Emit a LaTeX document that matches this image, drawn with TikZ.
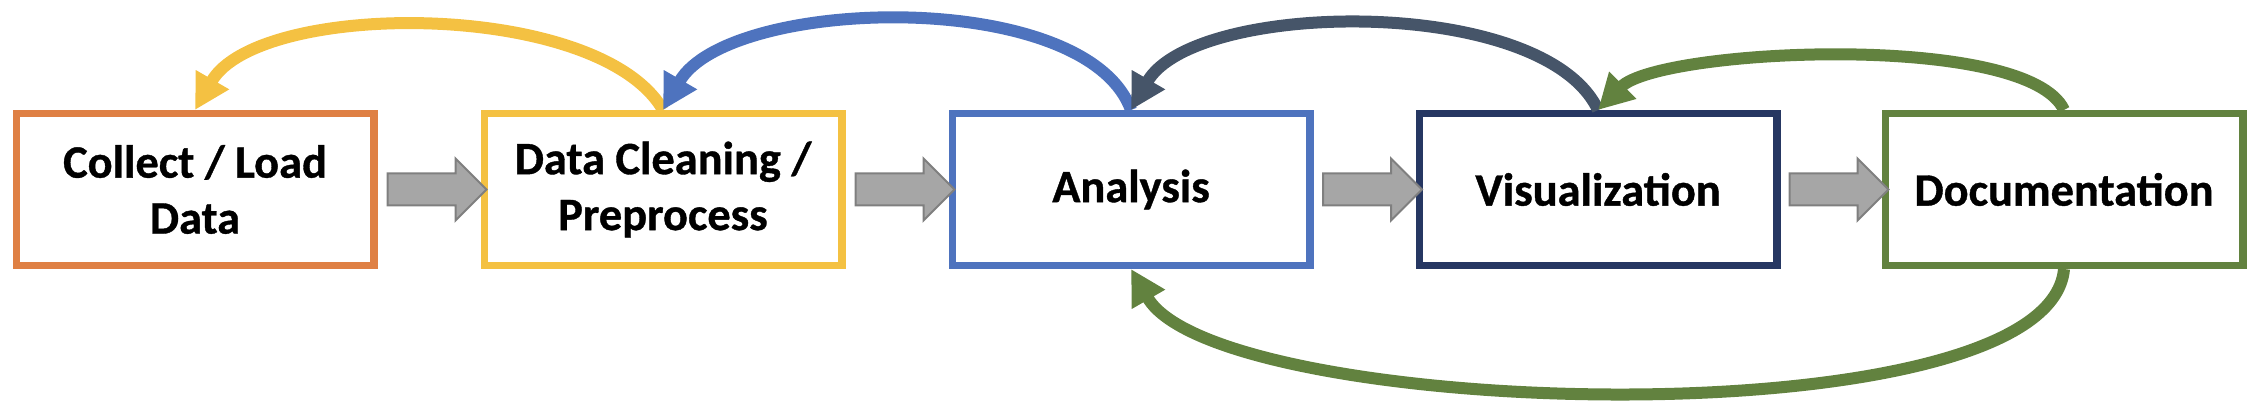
\documentclass[tikz,border=0pt]{standalone}
\usepackage{fontspec}
\setmainfont{Carlito}[BoldFeatures={FakeBold=0.8}]
\usetikzlibrary{calc,shapes.arrows,arrows.meta}
\definecolor{loadorange}{HTML}{DF8044}
\definecolor{cleanyellow}{HTML}{F4C142}
\definecolor{analysisblue}{HTML}{4E73BE}
\definecolor{visnavy}{HTML}{263762}
\definecolor{docgreen}{HTML}{62823F}
\definecolor{backslate}{HTML}{465569}
\definecolor{flowfill}{HTML}{A6A6A6}
\definecolor{flowedge}{HTML}{7F7F7F}

\begin{document}
\begin{tikzpicture}[
        stage/.style={draw,line width=0.075cm,fill=white,minimum width=3.575cm,minimum height=1.515cm,
            align=center,font=\fontsize{13.2pt}{15.9pt}\selectfont\bfseries},
        flow/.style={single arrow,draw=flowedge,fill=flowfill,line width=0.02cm,inner sep=0.15cm,
            single arrow head extend=0.15cm,minimum height=0.99cm},
        back/.style={line width=0.12cm,-{Triangle[width=0.36cm,length=0.35cm]}}]
        \useasboundingbox (0,0) rectangle (22.58,4.04);
        \node[stage,draw=loadorange] (load) at (1.95,2.145) {Collect / Load\\Data};
        \node[stage,draw=cleanyellow] (clean) at (6.63,2.145) {Data Cleaning /\\Preprocess};
        \node[stage,draw=analysisblue] (analysis) at (11.31,2.145) {Analysis};
        \node[stage,draw=visnavy] (vis) at (15.98,2.145) {Visualization};
        \node[stage,draw=docgreen] (doc) at (20.64,2.145) {Documentation};
        \node[flow] (f1) at ($(load.east)!0.5!(clean.west)$) {};
        \node[flow] (f2) at ($(clean.east)!0.5!(analysis.west)$) {};
        \node[flow] (f3) at ($(analysis.east)!0.5!(vis.west)$) {};
        \node[flow] (f4) at ($(vis.east)!0.5!(doc.west)$) {};
        % feedback loops
        \draw[back,cleanyellow] (clean.north) to[out=120,in=60,looseness=0.70] (load.north);
        \draw[back,analysisblue] (analysis.north) to[out=110,in=60,looseness=0.72] (clean.north);
        \draw[back,backslate] (vis.north) to[out=115,in=60,looseness=0.70] (analysis.north);
        \draw[back,docgreen] (doc.north) to[out=115,in=45,looseness=0.48] (vis.north);
        \draw[back,docgreen] (doc.south) to[out=-95,in=-60,looseness=0.48] (analysis.south);
    \end{tikzpicture}
\end{document}
